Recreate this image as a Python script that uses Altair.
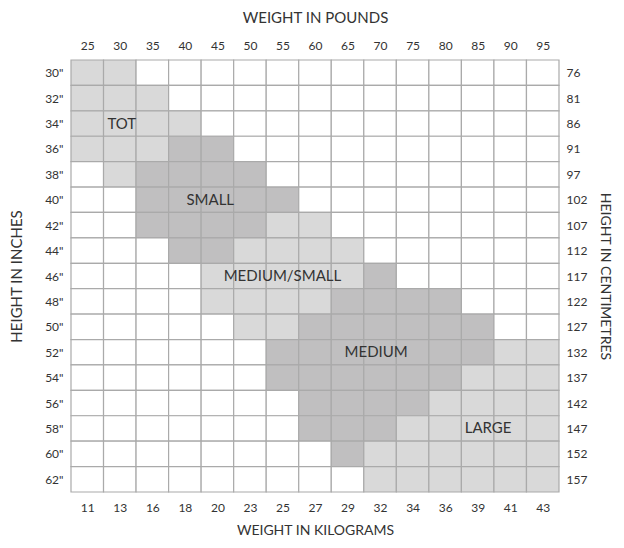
import altair as alt
import pandas as pd

# --- data ---------------------------------------------------------------
lbs = [25, 30, 35, 40, 45, 50, 55, 60, 65, 70, 75, 80, 85, 90, 95]
kg = [11, 13, 16, 18, 20, 23, 25, 27, 29, 32, 34, 36, 39, 41, 43]
inches = [30, 32, 34, 36, 38, 40, 42, 44, 46, 48, 50, 52, 54, 56, 58, 60, 62]
cm = [76, 81, 86, 91, 97, 102, 107, 112, 117, 122, 127, 132, 137, 142, 147, 152, 157]

# one string per height row, one character per weight column
# '.' = outside, 'L' = light band, 'D' = dark band
grid_rows = [
    "LL.............",
    "LLL............",
    "LLLL...........",
    "LLLDD..........",
    ".LDDDD.........",
    "..DDDDD........",
    "..DDDDLL.......",
    "...DDLLLL......",
    "....LLLLLD.....",
    "....LLLLDDDD...",
    ".....LLDDDDDD..",
    "......DDDDDDDLL",
    "......DDDDDDLLL",
    ".......DDDDLLLL",
    ".......DDDLLLLL",
    "........DLLLLLL",
    ".........LLLLLL",
]

size_names = ["TOT", "SMALL", "MEDIUM/SMALL", "MEDIUM", "LARGE"]
size_lbs = [30.3, 43.9, 55.0, 69.4, 86.6]
size_inches = [34, 40, 46, 52, 58]

tone_codes = [".", "L", "D"]
tone_colors = ["#ffffff", "#d9d9d9", "#c0bfc0"]

# --- tables -------------------------------------------------------------
cells = pd.DataFrame(
    [
        {"lbs": w, "inches": h, "tone": grid_rows[i][j]}
        for i, h in enumerate(inches)
        for j, w in enumerate(lbs)
    ]
)
labels = pd.DataFrame({"name": size_names, "lbs": size_lbs, "inches": size_inches})

x_step = lbs[1] - lbs[0]
y_step = inches[1] - inches[0]
x_dom = [lbs[0] - x_step / 2, lbs[-1] + x_step / 2]
y_dom = [inches[0] - y_step / 2, inches[-1] + y_step / 2]

x_scale = alt.Scale(domain=x_dom, nice=False, zero=False)
y_scale = alt.Scale(domain=y_dom, nice=False, zero=False, reverse=True)

FONT = "Lato"
TXT = "#333333"

kg_expr = "[" + ",".join(str(v) for v in kg) + "][round((datum.value-%d)/%d)]" % (lbs[0], x_step)
cm_expr = "[" + ",".join(str(v) for v in cm) + "][round((datum.value-%d)/%d)]" % (inches[0], y_step)

rects = (
    alt.Chart(cells)
    .transform_calculate(
        x0=f"datum.lbs - {x_step / 2}",
        x1=f"datum.lbs + {x_step / 2}",
        y0=f"datum.inches - {y_step / 2}",
        y1=f"datum.inches + {y_step / 2}",
    )
    .mark_rect(stroke="#aaaaaa", strokeWidth=1.2)
    .encode(
        x=alt.X(
            "x0:Q",
            scale=x_scale,
            axis=alt.Axis(
                orient="top",
                values=lbs,
                title="WEIGHT IN POUNDS",
                labelPadding=8,
                titlePadding=14,
            ),
        ),
        x2="x1:Q",
        y=alt.Y(
            "y0:Q",
            scale=y_scale,
            axis=alt.Axis(
                orient="left",
                values=inches,
                labelExpr="datum.value + '\"'",
                title="HEIGHT IN INCHES",
                labelPadding=8,
                titlePadding=20,
            ),
        ),
        y2="y1:Q",
        color=alt.Color(
            "tone:N",
            scale=alt.Scale(domain=tone_codes, range=tone_colors),
            legend=None,
        ),
    )
)

texts = (
    alt.Chart(labels)
    .mark_text(font=FONT, fontSize=15, color=TXT, baseline="middle", align="center")
    .encode(
        x=alt.X(
            "lbs:Q",
            scale=x_scale,
            axis=alt.Axis(
                orient="bottom",
                values=lbs,
                labelExpr=kg_expr,
                title="WEIGHT IN KILOGRAMS",
                labelPadding=10,
                titlePadding=10,
                titleFontSize=14,
            ),
        ),
        y=alt.Y(
            "inches:Q",
            scale=y_scale,
            axis=alt.Axis(
                orient="right",
                values=inches,
                labelExpr=cm_expr,
                title="HEIGHT IN CENTIMETRES",
                titleAngle=90,
                labelPadding=7,
                titlePadding=11,
                titleFontSize=14,
            ),
        ),
        text="name:N",
    )
)

chart = (
    alt.layer(rects, texts)
    .resolve_axis(x="independent", y="independent")
    .properties(
        width=488,
        height=432,
        autosize=alt.AutoSizeParams(type="none"),
        padding={"left": 63, "top": 52, "right": 57, "bottom": 48},
        background="white",
    )
    .configure_view(stroke=None)
    .configure_axis(
        grid=False,
        domain=False,
        ticks=False,
        tickSize=0,
        labelFont=FONT,
        labelFontSize=12,
        labelColor=TXT,
        titleFont=FONT,
        titleFontSize=15,
        titleFontWeight="normal",
        titleColor=TXT,
    )
)

chart.save("out.html", embed_options={"renderer": "svg", "actions": False})
